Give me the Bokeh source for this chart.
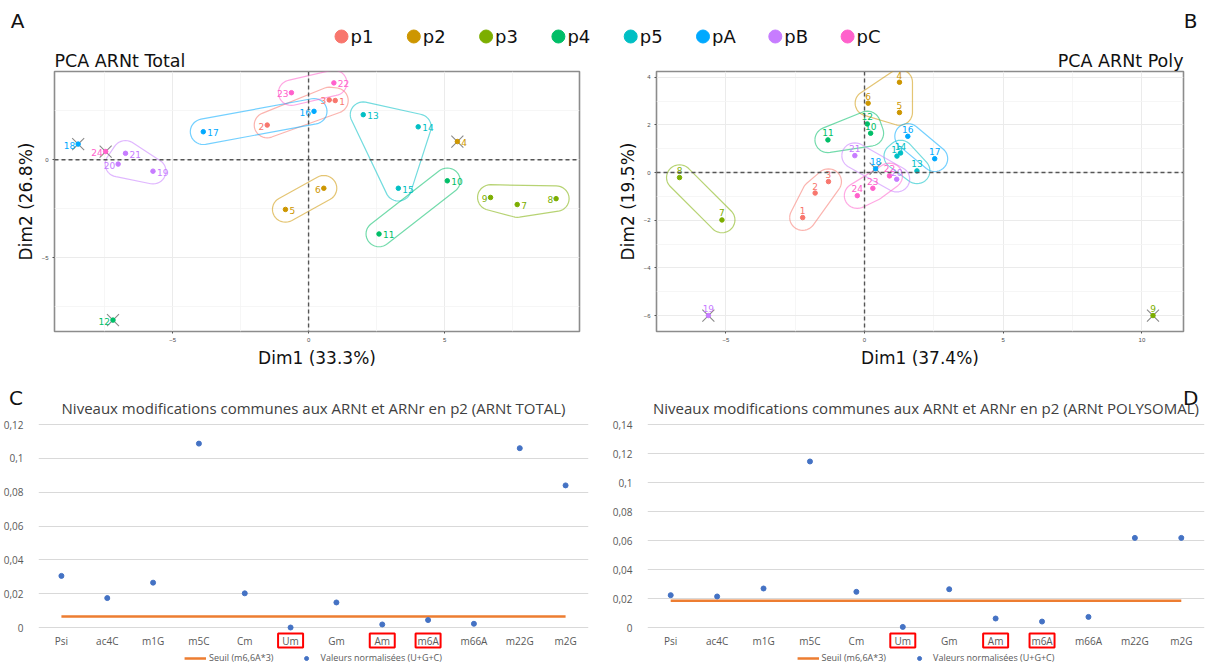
import numpy as np
from bokeh.plotting import figure
from bokeh.layouts import row
from bokeh.models import (ColumnDataSource, Range1d, FixedTicker, Span, Div,
                          Legend, LegendItem, FactorRange, CustomJSTickFormatter)
from bokeh.core.properties import value
from bokeh.embed import file_html
from bokeh.resources import INLINE

# ------------------------------------------------------------------ data
groups = ["p1", "p2", "p3", "p4", "p5", "pA", "pB", "pC"]
group_colors = ["#F8766D", "#CD9600", "#7CAE00", "#00BE67",
                "#00BFC4", "#00A9FF", "#C77CFF", "#FF61CC"]
sample_ids = [1, 2, 3, 4, 5, 6, 7, 8, 9, 10, 11, 12,
              13, 14, 15, 16, 17, 18, 19, 20, 21, 22, 23, 24]
sample_group = ["p1", "p1", "p1", "p2", "p2", "p2", "p3", "p3", "p3",
                "p4", "p4", "p4", "p5", "p5", "p5", "pA", "pA", "pA",
                "pB", "pB", "pB", "pC", "pC", "pC"]

# PCA ARNt Total
A_dim1 = [0.98, -1.52, 0.76, 5.47, -0.85, 0.56, 7.67, 9.10, 6.69, 5.10, 2.59, -7.19,
          2.01, 4.03, 3.30, 0.20, -3.87, -8.47, -5.72, -7.00, -6.73, 0.93, -0.63, -7.46]
A_dim2 = [3.02, 1.77, 3.05, 0.93, -2.53, -1.45, -2.28, -1.98, -1.92, -1.07, -3.78, -8.17,
          2.30, 1.68, -1.45, 2.47, 1.43, 0.80, -0.58, -0.22, 0.33, 3.92, 3.42, 0.42]
A_outliers = [4, 12, 18, 24]

# PCA ARNt Poly
B_dim1 = [-2.23, -1.78, -1.30, 1.26, 1.26, 0.13, -5.14, -6.67, 10.40, 0.22, -1.32, 0.10,
          1.89, 1.30, 1.17, 1.56, 2.53, 0.40, -5.63, 1.16, -0.35, 0.90, 0.30, -0.26]
B_dim2 = [-1.89, -0.86, -0.38, 3.79, 2.52, 2.91, -1.99, -0.21, -6.00, 1.65, 1.37, 2.04,
          0.07, 0.82, 0.69, 1.52, 0.58, 0.16, -6.00, -0.28, 0.71, -0.14, -0.66, -0.97]
B_outliers = [9, 18, 19]

A_xticks = [-5, 0, 5]
A_xminor = [-7.5, -2.5, 2.5, 7.5]
A_yticks = [-5, 0]
A_yminor = [-7.5, -2.5, 2.5]
B_xticks = [-5, 0, 5, 10]
B_xminor = [-7.5, -2.5, 2.5, 7.5]
B_yticks = [-6, -4, -2, 0, 2, 4]
B_yminor = [-5, -3, -1, 1, 3]

# modification levels
mods = ["Psi", "ac4C", "m1G", "m5C", "Cm", "Um", "Gm", "Am", "m6A", "m66A", "m22G", "m2G"]
C_values = [0.0305, 0.0174, 0.0265, 0.1087, 0.0202, 0.0000,
            0.0148, 0.0018, 0.0044, 0.0022, 0.1060, 0.0840]
C_seuil = 0.0065
D_values = [0.0223, 0.0214, 0.0269, 0.1145, 0.0246, 0.0004,
            0.0264, 0.0062, 0.0041, 0.0073, 0.0618, 0.0618]
D_seuil = 0.0185
highlighted = ["Um", "Am", "m6A"]
C_yticks = [0, 0.02, 0.04, 0.06, 0.08, 0.10, 0.12]
D_yticks = [0, 0.02, 0.04, 0.06, 0.08, 0.10, 0.12, 0.14]

# label placement style for panel A (others to the right)
A_left_labels = [2, 3, 6, 8, 9, 12, 16, 18, 20, 23, 24]

PCA_FONT = "DejaVu Sans"
XL_FONT = "Open Sans"
color_of = dict(zip(groups, group_colors))


# ------------------------------------------------------------------ helpers
def convex_hull(points):
    pts = sorted(set(points))
    if len(pts) <= 2:
        return pts

    def cross(o, a, b):
        return (a[0] - o[0]) * (b[1] - o[1]) - (a[1] - o[1]) * (b[0] - o[0])

    lower = []
    for p in pts:
        while len(lower) >= 2 and cross(lower[-2], lower[-1], p) <= 0:
            lower.pop()
        lower.append(p)
    upper = []
    for p in reversed(pts):
        while len(upper) >= 2 and cross(upper[-2], upper[-1], p) <= 0:
            upper.pop()
        upper.append(p)
    return lower[:-1] + upper[:-1]


def rounded_hull(xs, ys, sx, sy, r, n=36):
    pts = []
    ang = np.linspace(0, 2 * np.pi, n, endpoint=False)
    for x, y in zip(xs, ys):
        for a in ang:
            pts.append((round(x * sx + r * np.cos(a), 4), round(y * sy + r * np.sin(a), 4)))
    h = convex_hull(pts)
    h.append(h[0])
    return [q[0] / sx for q in h], [q[1] / sy for q in h]


def pca_panel(d1, d2, outliers, xr, yr, xt, xm, yt, ym, title, talign,
              xlab, ylab, bl, br, mode):
    W, H = 604, 324
    top, bottom = 25, 34
    p = figure(width=W, height=H, x_range=Range1d(*xr), y_range=Range1d(*yr),
               output_backend="svg", toolbar_location=None,
               min_border_left=bl, min_border_right=br,
               min_border_top=top, min_border_bottom=bottom)
    fw = W - bl - br
    fh = H - top - bottom
    sx = fw / (xr[1] - xr[0])
    sy = fh / (yr[1] - yr[0])

    p.title.text = title
    p.title.align = talign
    p.title.text_font = PCA_FONT
    p.title.text_font_size = "17.5px"
    p.title.text_font_style = "normal"
    p.title.text_color = "#111111"
    p.title.standoff = 1

    p.outline_line_color = "#8c8c8c"
    p.outline_line_width = 1.6

    xtk = FixedTicker(ticks=xt, minor_ticks=xm)
    ytk = FixedTicker(ticks=yt, minor_ticks=ym)
    p.xaxis.ticker = xtk
    p.yaxis.ticker = ytk
    p.xgrid.ticker = xtk
    p.ygrid.ticker = ytk
    for g in (p.xgrid, p.ygrid):
        g.grid_line_color = "#ebebeb"
        g.grid_line_width = 1
        g.minor_grid_line_color = "#f4f4f4"
        g.minor_grid_line_width = 0.8
    p.axis.axis_line_color = None
    p.axis.minor_tick_line_color = None
    p.axis.major_tick_line_color = "#555555"
    p.axis.major_tick_out = 2
    p.axis.major_tick_in = 0
    p.axis.major_label_text_font_size = "6px"
    p.axis.major_label_text_color = "#4d4d4d"
    p.axis.major_label_standoff = 2
    p.axis.axis_label_text_font = PCA_FONT
    p.axis.axis_label_text_font_size = "17px"
    p.axis.axis_label_text_font_style = "normal"
    p.axis.axis_label_text_color = "#111111"
    p.axis.axis_label_standoff = 3
    p.xaxis.axis_label = xlab
    p.yaxis.axis_label = ylab

    # reference lines
    p.add_layout(Span(location=0, dimension="width", line_color="#555555",
                      line_dash="4 3", line_width=1.4))
    p.add_layout(Span(location=0, dimension="height", line_color="#555555",
                      line_dash="4 3", line_width=1.4))

    # group hulls
    for g, c in zip(groups, group_colors):
        xs = [d1[i] for i in range(len(sample_ids))
              if sample_group[i] == g and sample_ids[i] not in outliers]
        ys = [d2[i] for i in range(len(sample_ids))
              if sample_group[i] == g and sample_ids[i] not in outliers]
        if len(xs) >= 2:
            hx, hy = rounded_hull(xs, ys, sx, sy, 13)
            p.line(hx, hy, line_color=c, line_alpha=0.55, line_width=1.2)

    # excluded individuals (crosses)
    ox = [d1[i] for i in range(len(sample_ids)) if sample_ids[i] in outliers]
    oy = [d2[i] for i in range(len(sample_ids)) if sample_ids[i] in outliers]
    p.scatter(ox, oy, marker="x", size=17, line_color="#8a8a8a", line_width=1.1)

    cols = [color_of[g] for g in sample_group]
    p.scatter(d1, d2, size=4.5, color=cols)

    labels = [str(s) for s in sample_ids]
    if mode == "side":
        for side in ("left", "right"):
            idx = [i for i in range(len(sample_ids))
                   if (sample_ids[i] in A_left_labels) == (side == "left")]
            src = ColumnDataSource(dict(x=[d1[i] for i in idx], y=[d2[i] for i in idx],
                                        t=[labels[i] for i in idx],
                                        c=[cols[i] for i in idx]))
            p.text(x="x", y="y", text="t", text_color="c", source=src,
                   text_align="right" if side == "left" else "left",
                   text_baseline="middle",
                   x_offset=-3 if side == "left" else 4, y_offset=1,
                   text_font=value(PCA_FONT), text_font_size="9px")
    else:
        src = ColumnDataSource(dict(x=d1, y=d2, t=labels, c=cols))
        p.text(x="x", y="y", text="t", text_color="c", source=src,
               text_align="center", text_baseline="middle", y_offset=-7,
               text_font=value(PCA_FONT), text_font_size="9px")
    return p


def excel_panel(vals, seuil, yticks, px_per_unit, title, bl, br, title_shift):
    W, H = 604, 294
    top = 51                      # frame top 3 px above top gridline
    fh = H - top
    zero_from_bottom = 37         # px between zero line and frame bottom
    ylo = -zero_from_bottom / px_per_unit
    yhi = ylo + fh / px_per_unit
    p = figure(width=W, height=H, x_range=FactorRange(factors=mods),
               y_range=Range1d(ylo, yhi), output_backend="svg",
               toolbar_location=None, min_border_left=bl, min_border_right=br,
               min_border_top=top, min_border_bottom=0)
    p.outline_line_color = None
    p.xaxis.visible = False
    p.xgrid.grid_line_color = None
    tk = FixedTicker(ticks=yticks)
    p.yaxis.ticker = tk
    p.ygrid.ticker = tk
    p.ygrid.grid_line_color = "#d9d9d9"
    p.ygrid.grid_line_width = 1
    p.yaxis.formatter = CustomJSTickFormatter(
        code="return String(Math.round(tick*100)/100).replace('.', ',');")
    p.yaxis.axis_line_color = None
    p.yaxis.major_tick_line_color = None
    p.yaxis.minor_tick_line_color = None
    p.yaxis.major_label_standoff = 9
    p.yaxis.major_label_text_font = XL_FONT
    p.yaxis.major_label_text_font_size = "10px"
    p.yaxis.major_label_text_color = "#595959"

    p.title.text = title
    p.title.align = "center"
    p.title.offset = title_shift
    p.title.text_font = XL_FONT
    p.title.text_font_size = "15px"
    p.title.text_font_style = "normal"
    p.title.text_color = "#404040"
    p.title.standoff = 7

    # category labels
    ly = -13.0 / px_per_unit
    p.text(x=mods, y=[ly] * len(mods), text=mods, text_align="center",
           text_baseline="middle", text_font=value(XL_FONT), text_font_size="10px",
           text_color="#595959")
    hx = [m for m in mods if m in highlighted]
    p.rect(x=hx, y=[ly] * len(hx), width=25, height=14, width_units="screen",
           height_units="screen", fill_color=None, line_color="#FF0000", line_width=2)

    r1 = p.line(mods, [seuil] * len(mods), line_color="#ED7D31", line_width=2.5)
    r2 = p.scatter(mods, vals, size=5, color="#4472C4")

    leg = Legend(items=[LegendItem(label="Seuil (m6,6A*3)", renderers=[r1]),
                        LegendItem(label="Valeurs normalisées (U+G+C)", renderers=[r2])],
                 orientation="horizontal", location="bottom_center",
                 margin=0, padding=1, spacing=22, label_standoff=3,
                 label_height=10, glyph_height=10, glyph_width=22,
                 label_text_font=XL_FONT, label_text_font_size="9px",
                 label_text_color="#595959",
                 border_line_color=None, background_fill_alpha=0)
    p.add_layout(leg)
    return p


def letter_div(txt, left, top):
    return Div(text=txt, width=22, height=26,
               styles={"position": "absolute", "left": f"{left}px", "top": f"{top}px",
                       "font-family": PCA_FONT, "font-size": "20px", "color": "#111111",
                       "line-height": "26px", "margin": "0", "padding": "0"})


# ------------------------------------------------------------------ header
hdr = figure(width=1208, height=46, x_range=Range1d(0, 1208), y_range=Range1d(46, 0),
             x_axis_type=None, y_axis_type=None, output_backend="svg",
             toolbar_location=None, min_border=0)
hdr.outline_line_color = None
lx = [341 + i * 72.3 for i in range(len(groups))]
hdr.scatter(lx, [36] * len(groups), size=13, color=group_colors)
hdr.text(x=[v + 9 for v in lx], y=[36] * len(groups), text=groups,
         text_align="left", text_baseline="middle",
         text_font=value(PCA_FONT), text_font_size="18px", text_color="#111111")
hdr.text(x=[17, 1190], y=[20, 20], text=["A", "B"], text_align="center",
         text_baseline="middle", text_font=value(PCA_FONT), text_font_size="20px",
         text_color="#111111")

# ------------------------------------------------------------------ panels
pA = pca_panel(A_dim1, A_dim2, A_outliers, (-9.34, 9.96), (-8.75, 4.5),
               A_xticks, A_xminor, A_yticks, A_yminor, "PCA ARNt Total", "left",
               "Dim1 (33.3%)", "Dim2 (26.8%)", 54, 25, "side")
pB = pca_panel(B_dim1, B_dim2, B_outliers, (-7.5, 11.5), (-6.67, 4.24),
               B_xticks, B_xminor, B_yticks, B_yminor, "PCA ARNt Poly", "right",
               "Dim1 (37.4%)", "Dim2 (19.5%)", 52, 25, "above")

pC = excel_panel(C_values, C_seuil, C_yticks, 203.0 / 0.12,
                 "Niveaux modifications communes aux ARNt et ARNr en p2 (ARNt TOTAL)",
                 33, 16, -10)
pD = excel_panel(D_values, D_seuil, D_yticks, 203.0 / 0.14,
                 "Niveaux modifications communes aux ARNt et ARNr en p2 (ARNt POLYSOMAL)",
                 43, 4, 0)

roots = [hdr, row(pA, pB), row(pC, pD),
         letter_div("C", 9, 385), letter_div("D", 1183, 385)]
open("out.html", "w").write(file_html(roots, INLINE))
